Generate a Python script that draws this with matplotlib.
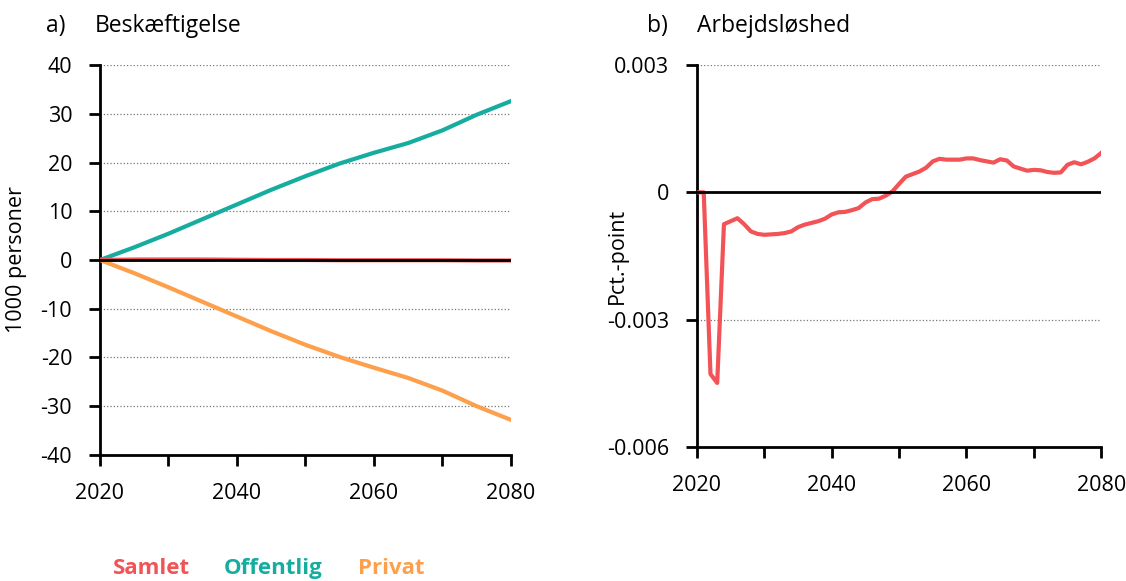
import numpy as np
import matplotlib
matplotlib.use("Agg")
import matplotlib.pyplot as plt

plt.rcParams["font.family"] = ["Open Sans", "DejaVu Sans"]
plt.rcParams["axes.unicode_minus"] = False

# a) Beskæftigelse, 1000 personer
years_a = [2020, 2025, 2030, 2035, 2040, 2045, 2050, 2055, 2060, 2065, 2070, 2075, 2080]
samlet = [0.0, 0.1, 0.1, 0.1, 0.05, 0.0, 0.0, -0.05, -0.05, -0.05, -0.05, -0.1, -0.1]
offentlig = [0.0, 2.6, 5.4, 8.4, 11.4, 14.4, 17.2, 19.8, 22.0, 24.0, 26.6, 29.8, 32.6]
privat = [0.0, -2.7, -5.6, -8.6, -11.6, -14.6, -17.4, -19.9, -22.1, -24.2, -26.8, -30.0, -32.8]

# b) Arbejdsløshed, pct.-point
years_b = list(range(2020, 2081))
ledighed = [
    0.0, 0.0, -0.00428, -0.00449, -0.00075, -0.00068, -0.00061, -0.00075, -0.00092, -0.00098,
    -0.00100, -0.00099, -0.00098, -0.00096, -0.00092, -0.00082, -0.00076, -0.00072, -0.00068, -0.00062,
    -0.00052, -0.00047, -0.00046, -0.00042, -0.00037, -0.00024, -0.00016, -0.00015, -0.00008, 0.00002,
    0.00020, 0.00037, 0.00043, 0.00049, 0.00058, 0.00073, 0.00079, 0.00077, 0.00077, 0.00077,
    0.00080, 0.00080, 0.00076, 0.00073, 0.00070, 0.00078, 0.00075, 0.00061, 0.00056, 0.00051,
    0.00053, 0.00052, 0.00048, 0.00046, 0.00047, 0.00065, 0.00071, 0.00066, 0.00072, 0.00080,
    0.00093,
]

names = ["Samlet", "Offentlig", "Privat"]
colors = ["#F25356", "#16ADA0", "#FD9F4B"]

fig = plt.figure(figsize=(11.26, 5.81), dpi=100)
ax1 = fig.add_axes([0.0888, 0.2169, 0.365, 0.6712])
ax2 = fig.add_axes([0.619, 0.2306, 0.359, 0.6575])

FS = 15.5


def style_axis(ax):
    for side in ["top", "right"]:
        ax.spines[side].set_visible(False)
    for side in ["left", "bottom"]:
        ax.spines[side].set_linewidth(2.0)
    ax.tick_params(axis="both", direction="out", length=8, width=2.0, labelsize=FS)
    ax.tick_params(axis="y", pad=12)
    ax.tick_params(axis="x", pad=12)
    ax.grid(axis="y", linestyle=":", color="#777777", linewidth=0.9)
    ax.set_axisbelow(True)
    ax.set_xlim(2020, 2080)
    ax.set_xticks(range(2020, 2081, 10))
    ax.set_xticklabels([str(y) if y % 20 == 0 else "" for y in range(2020, 2081, 10)])


# panel a
style_axis(ax1)
ax1.plot(years_a, offentlig, color=colors[1], lw=3, zorder=3)
ax1.plot(years_a, privat, color=colors[2], lw=3, zorder=3)
ax1.plot(years_a, samlet, color=colors[0], lw=3, zorder=3)
ax1.axhline(0, color="black", lw=2.0, zorder=4)
ax1.set_ylim(-40, 40)
ax1.set_yticks(range(-40, 41, 10))
ax1.set_ylabel("1000 personer", fontsize=FS)
ax1.yaxis.set_label_coords(-0.178, 0.5)

# panel b
style_axis(ax2)
ax2.plot(years_b, ledighed, color=colors[0], lw=3, zorder=3)
ax2.axhline(0, color="black", lw=2.0, zorder=4)
ax2.set_ylim(-0.006, 0.003)
ax2.set_yticks([-0.006, -0.003, 0, 0.003])
ax2.set_yticklabels(["-0.006", "-0.003", "0", "0.003"])
ax2.set_ylabel("Pct.-point", fontsize=FS)
ax2.yaxis.set_label_coords(-0.171, 0.5)

# titles
fig.text(0.041, 0.955, "a)", fontsize=16.5, va="center")
fig.text(0.084, 0.955, "Beskæftigelse", fontsize=16.5, va="center")
fig.text(0.575, 0.955, "b)", fontsize=16.5, va="center")
fig.text(0.619, 0.955, "Arbejdsløshed", fontsize=16.5, va="center")

# legend
legend_x = [0.100, 0.199, 0.318]
for x, name, c in zip(legend_x, names, colors):
    fig.text(x, 0.022, name, color=c, fontsize=16, fontweight="bold", va="center")

fig.savefig("out.png", dpi=100)
